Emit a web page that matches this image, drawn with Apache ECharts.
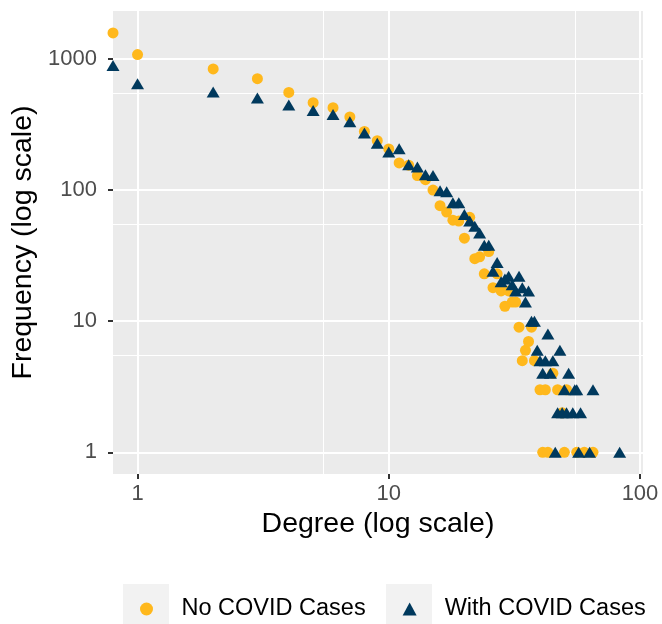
<!DOCTYPE html>
<html>
<head>
<meta charset="utf-8">
<script src="https://cdn.jsdelivr.net/npm/echarts@6/dist/echarts.min.js"></script>
<style>html,body{margin:0;padding:0;background:#fff}#c{width:662px;height:624px}</style>
</head>
<body>
<div id="c"></div>
<script>
// ---- data (degree 0 is drawn at the left edge of the log axis, as ggplot does with -Inf)
var noCovidDegree = [0,1,2,3,4,5,6,7,8,9,10,11,12,13,14,15,16,17,18,19,20,21,22,23,24,25,26,27,28,29,30,31,32,33,34,35,36,37,38,40,41,42,43,45,47,49,50,51,56,60,65];
var noCovidFreq   = [1580,1080,840,707,556,464,425,361,280,238,206,161,155,129,120,100,76,68,59,58,43,62,30,31,23,34,18,23,17,13,17,14,14,9,5,6,7,9,5,3,1,3,1,4,3,2,1,3,1,1,1];
var covidDegree = [0,1,2,3,4,5,6,7,8,9,10,11,12,13,14,15,16,17,18,19,20,21,22,23,24,25,26,27,28,29,30,31,32,33,34,35,36,37,38,39,40,41,42,43,44,45,46,47,48,49,50,51,52,54,55,56,57,58,63,65,83];
var covidFreq   = [890,648,560,504,445,405,378,332,272,228,195,207,156,150,131,129,99,97,80,80,65,58,53,47,38,38,24,28,20,21,22,19,17,22,18,14,17,10,10,6,5,4,5,8,4,5,1,2,6,2,3,2,4,2,3,3,1,2,1,3,1];
var xTicks = [1, 10, 100];
var yTicks = [1, 10, 100, 1000];
var seriesNames = ['No COVID Cases', 'With COVID Cases'];

var xMin = Math.pow(10, -0.0977), xMax = Math.pow(10, 2.012);
var yMin = Math.pow(10, -0.1656), yMax = Math.pow(10, 3.366);

function pairs(dx, fy) {
  return dx.map(function (d, i) { return [d <= 0 ? xMin : d, fy[i]]; });
}

var chart = echarts.init(document.getElementById('c'), null, {renderer: 'canvas'});
var font = 'Liberation Sans, Arial, sans-serif';
var option = {
  animation: false,
  backgroundColor: '#ffffff',
  textStyle: {fontFamily: font},
  grid: {left: 113, right: 19, top: 11, bottom: 150, show: true, backgroundColor: '#EBEBEB', borderWidth: 0},
  graphic: [
    {type: 'rect', left: 123, top: 584, z: 0, shape: {width: 46, height: 46}, style: {fill: '#F2F2F2'}},
    {type: 'rect', left: 386, top: 584, z: 0, shape: {width: 46, height: 46}, style: {fill: '#F2F2F2'}}
  ],
  xAxis: {
    type: 'log', logBase: 10, min: xMin, max: xMax,
    name: 'Degree (log scale)', nameLocation: 'middle', nameGap: 34,
    nameTextStyle: {fontSize: 28.5, color: '#000', fontFamily: font},
    axisLine: {show: false},
    axisTick: {show: true, length: 5, lineStyle: {color: '#333333', width: 2}, customValues: xTicks},
    axisLabel: {fontSize: 22, color: '#4D4D4D', margin: 9, fontFamily: font, customValues: xTicks,
      formatter: function (v) { return String(Math.round(v)); }},
    splitLine: {show: true, lineStyle: {color: '#ffffff', width: 2}},
    minorTick: {show: false, splitNumber: 2},
    minorSplitLine: {show: true, lineStyle: {color: '#ffffff', width: 1}}
  },
  yAxis: {
    type: 'log', logBase: 10, min: yMin, max: yMax,
    name: 'Frequency (log scale)', nameLocation: 'middle', nameGap: 64, nameRotate: 90,
    nameTextStyle: {fontSize: 28.5, color: '#000', fontFamily: font},
    axisLine: {show: false},
    axisTick: {show: true, length: 5, lineStyle: {color: '#333333', width: 2}, customValues: yTicks},
    axisLabel: {fontSize: 22, color: '#4D4D4D', margin: 16, fontFamily: font, customValues: yTicks,
      formatter: function (v) { return String(Math.round(v)); }},
    splitLine: {show: true, lineStyle: {color: '#ffffff', width: 2}},
    minorTick: {show: false, splitNumber: 2},
    minorSplitLine: {show: true, lineStyle: {color: '#ffffff', width: 1}}
  },
  legend: {
    top: 592, left: 135, itemGap: 37, itemWidth: 14, itemHeight: 13, z: 5,
    formatter: '{t|{name}}',
    textStyle: {fontSize: 23.5, color: '#000', fontFamily: font,
      rich: {t: {fontSize: 23.5, color: '#000', fontFamily: font, padding: [0, 0, 0, 23]}}},
    data: [
      {name: seriesNames[0], icon: 'circle', itemStyle: {color: '#FFB81C'}},
      {name: seriesNames[1], icon: 'triangle', itemStyle: {color: '#00395D'}}
    ]
  },
  series: [
    {name: seriesNames[0], type: 'scatter', symbol: 'circle', symbolSize: 11,
      itemStyle: {color: '#FFB81C', opacity: 1}, data: pairs(noCovidDegree, noCovidFreq), z: 2},
    {name: seriesNames[1], type: 'scatter', symbol: 'triangle', symbolSize: [13, 11],
      itemStyle: {color: '#00395D', opacity: 1}, data: pairs(covidDegree, covidFreq), z: 3}
  ]
};
chart.setOption(option);
</script>
</body>
</html>
